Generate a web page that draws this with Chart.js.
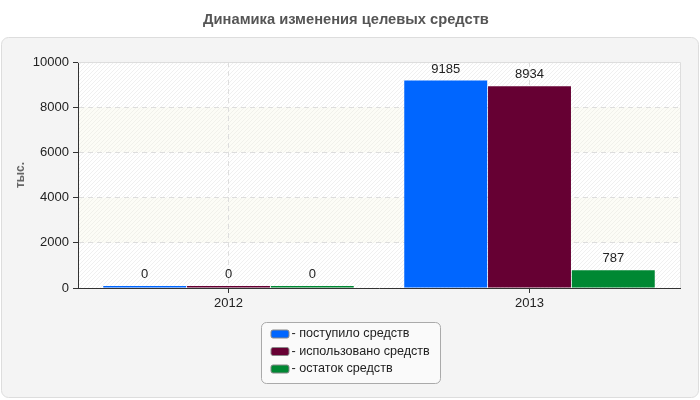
<!DOCTYPE html>
<html>
<head>
<meta charset="utf-8">
<script src="https://cdn.jsdelivr.net/npm/chart.js@4"></script>
<style>
  html, body { margin: 0; padding: 0; background: #ffffff; }
  #wrap { width: 700px; height: 400px; }
</style>
</head>
<body>
<div id="wrap"><canvas id="chart" width="700" height="400"></canvas></div>
<script>
// data
const years = ["2012", "2013"];
const received = [0, 9185];
const used = [0, 8934];
const remaining = [0, 787];
const series_names = ["- поступило средств", "- использовано средств", "- остаток средств"];
const series_colors = ["#0066ff", "#660033", "#008833"];
const y_ticks = [0, 2000, 4000, 6000, 8000, 10000];

const font_family = "'Liberation Sans', Arial, sans-serif";

// the faint diagonal hatch behind the plot
function make_hatch() {
  const c = document.createElement("canvas");
  c.width = 4;
  c.height = 4;
  const g = c.getContext("2d");
  g.fillStyle = "#ffffff";
  g.fillRect(0, 0, 4, 4);
  g.strokeStyle = "#f0f0f0";
  g.lineWidth = 1;
  g.beginPath();
  g.moveTo(-1, 5);
  g.lineTo(5, -1);
  g.stroke();
  return g.createPattern(c, "repeat");
}

function round_rect(ctx, x, y, w, h, r) {
  ctx.beginPath();
  ctx.moveTo(x + r, y);
  ctx.lineTo(x + w - r, y);
  ctx.arcTo(x + w, y, x + w, y + r, r);
  ctx.lineTo(x + w, y + h - r);
  ctx.arcTo(x + w, y + h, x + w - r, y + h, r);
  ctx.lineTo(x + r, y + h);
  ctx.arcTo(x, y + h, x, y + h - r, r);
  ctx.lineTo(x, y + r);
  ctx.arcTo(x, y, x + r, y, r);
  ctx.closePath();
}

// grey panel, plot background with alternating bands
const background_plugin = {
  id: "background_plugin",
  beforeDraw(chart) {
    const ctx = chart.ctx;
    const area = chart.chartArea;
    const ys = chart.scales.y;
    ctx.save();
    round_rect(ctx, 1.5, 37.5, 697, 360, 7);
    ctx.fillStyle = "#f4f4f4";
    ctx.fill();
    ctx.strokeStyle = "#dddddd";
    ctx.lineWidth = 1;
    ctx.stroke();

    ctx.fillStyle = make_hatch();
    ctx.fillRect(area.left, area.top, area.right - area.left, area.bottom - area.top);
    ctx.fillStyle = "rgba(245, 245, 220, 0.25)";
    for (let i = 1; i < y_ticks.length - 1; i += 2) {
      const top = ys.getPixelForValue(y_ticks[i + 1]);
      const bottom = ys.getPixelForValue(y_ticks[i]);
      ctx.fillRect(area.left, top, area.right - area.left, bottom - top);
    }
    ctx.restore();
  },
  beforeDatasetsDraw(chart) {
    const ctx = chart.ctx;
    const area = chart.chartArea;
    ctx.save();
    ctx.strokeStyle = "#dddddd";
    ctx.lineWidth = 1;
    ctx.beginPath();
    ctx.moveTo(area.left, area.top + 0.5);
    ctx.lineTo(area.right + 0.5, area.top + 0.5);
    ctx.lineTo(area.right + 0.5, area.bottom);
    ctx.stroke();
    ctx.restore();
  }
};

// numbers above each bar
const value_labels = {
  id: "value_labels",
  afterDatasetsDraw(chart) {
    const ctx = chart.ctx;
    ctx.save();
    ctx.font = "13px " + font_family;
    ctx.fillStyle = "#222222";
    ctx.textAlign = "center";
    ctx.textBaseline = "bottom";
    chart.data.datasets.forEach(function(ds, i) {
      chart.getDatasetMeta(i).data.forEach(function(bar, j) {
        ctx.fillText(String(ds.data[j]), bar.x, bar.y - 5);
      });
    });
    ctx.restore();
  }
};

// boxed legend under the plot, one item per row
const boxed_legend = {
  id: "boxed_legend",
  afterDraw(chart) {
    const ctx = chart.ctx;
    const sets = chart.data.datasets;
    ctx.save();
    ctx.font = "12.6px " + font_family;
    let text_w = 0;
    for (const ds of sets) text_w = Math.max(text_w, ctx.measureText(ds.label).width);
    const w = Math.round(10 + 18 + 3 + text_w + 10);
    const h = 61;
    const x = Math.round(350 - w / 2) + 0.5;
    const y = 322.5;
    round_rect(ctx, x, y, w, h, 5);
    ctx.fillStyle = "#fafafa";
    ctx.fill();
    ctx.strokeStyle = "#aaaaaa";
    ctx.stroke();
    ctx.textAlign = "left";
    ctx.textBaseline = "middle";
    sets.forEach(function(ds, i) {
      const cy = y + 11.5 + i * 17.5;
      round_rect(ctx, x + 9.5, cy - 4, 18, 8, 2);
      ctx.fillStyle = ds.backgroundColor;
      ctx.fill();
      ctx.strokeStyle = "#888888";
      ctx.stroke();
      ctx.fillStyle = "#222222";
      ctx.fillText(ds.label, x + 30, cy);
    });
    ctx.restore();
  }
};

function make_dataset(idx, values) {
  return {
    label: series_names[idx],
    data: values,
    backgroundColor: series_colors[idx],
    borderWidth: 0,
    minBarLength: 2,
    categoryPercentage: 0.835,
    barPercentage: 0.99
  };
}

const config = {
  type: "bar",
  data: {
    labels: years,
    datasets: [
      make_dataset(0, received),
      make_dataset(1, used),
      make_dataset(2, remaining)
    ]
  },
  options: {
    responsive: false,
    animation: false,
    devicePixelRatio: 1,
    layout: { padding: { left: 12, right: 20, top: 0, bottom: 82 } },
    plugins: {
      legend: { display: false },
      tooltip: { enabled: false },
      title: {
        display: true,
        text: "Динамика изменения целевых средств",
        color: "#555555",
        font: { family: font_family, size: 14.7, weight: "bold" },
        padding: { top: 11, bottom: 33.4 }
      }
    },
    scales: {
      x: {
        afterFit(scale) { scale.height = 30; },
        grid: {
          offset: false,
          color: "#dddddd",
          tickBorderDash: [],
          tickColor: "#333333",
          tickLength: 5
        },
        border: { color: "#333333", width: 1, dash: [5, 4] },
        ticks: {
          color: "#222222",
          padding: 3,
          font: { family: font_family, size: 13 }
        }
      },
      y: {
        min: 0,
        max: 10000,
        afterFit(scale) { scale.width = 66; },
        afterBuildTicks(scale) {
          scale.ticks = y_ticks.map(function(v) { return { value: v }; });
        },
        grid: {
          color: "#dddddd",
          tickBorderDash: [],
          tickColor: "#333333",
          tickLength: 5
        },
        border: { color: "#333333", width: 1, dash: [5, 4] },
        ticks: {
          color: "#222222",
          padding: 4,
          font: { family: font_family, size: 13 },
          callback: function(v) { return String(v); }
        },
        title: {
          display: true,
          text: "тыс.",
          color: "#666666",
          padding: { top: 1, bottom: 0 },
          font: { family: font_family, size: 12, weight: "bold" }
        }
      }
    }
  },
  plugins: [background_plugin, value_labels, boxed_legend]
};

const chart = new Chart(document.getElementById("chart").getContext("2d"), config);
</script>
</body>
</html>
